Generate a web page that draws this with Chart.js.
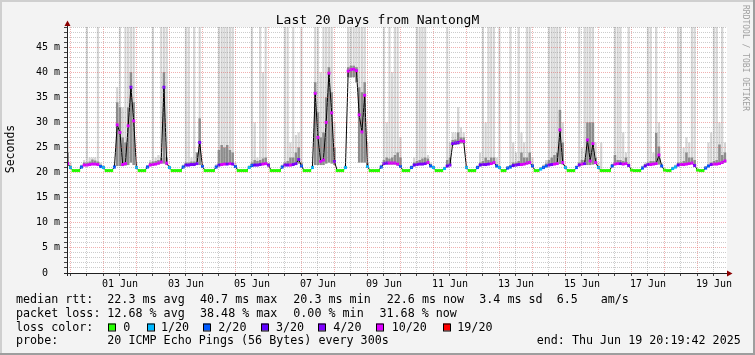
<!DOCTYPE html>
<html><head><meta charset="utf-8">
<script src="https://cdn.jsdelivr.net/npm/chart.js@4.4.1/dist/chart.umd.min.js"></script>
<style>html,body{margin:0;padding:0;background:#f3f3f3;}canvas{display:block;}</style>
</head><body>
<canvas id="c" width="755" height="355"></canvas>
<script>
const title = 'Last 20 Days from NantongM';
const yAxisTitle = 'Seconds';
const watermark = 'RRDTOOL / TOBI OETIKER';
const xTickLabels = ['01 Jun','03 Jun','05 Jun','07 Jun','09 Jun','11 Jun','13 Jun','15 Jun','17 Jun','19 Jun'];
const yTickLabels = ['0','5 m','10 m','15 m','20 m','25 m','30 m','35 m','40 m','45 m'];
// sample times: hours from 31 May 00:00, one sample every 2 hours
const firstHour = -2, stepHours = 2;
// median rtt (ms), rows = days (00:00 ... 22:00)
const median = [
 21.8,
 21.0,20.4,20.4,20.4,21.1,21.5,21.5,21.6,21.7,21.7,21.6,21.2,
 21.0,20.4,20.4,20.4,21.1,29.5,28.0,21.6,21.8,29.3,37.0,30.3,
 21.0,20.4,20.4,20.4,21.1,21.5,21.6,21.7,21.9,22.1,37.0,21.9,
 21.0,20.4,20.4,20.4,20.4,21.1,21.5,21.5,21.6,21.6,21.8,26.0,
 21.2,20.4,20.4,20.4,20.4,21.1,21.5,21.6,21.7,21.7,21.8,21.7,
 21.2,20.4,20.4,20.4,20.4,21.0,21.4,21.5,21.5,21.6,21.7,21.8,
 21.5,20.4,20.4,20.4,20.4,21.1,21.5,21.5,21.5,21.6,21.8,22.6,
 21.3,20.4,20.4,20.4,21.0,35.8,27.0,22.2,22.5,30.0,39.8,31.9,
 22.2,20.4,20.4,20.4,21.0,40.2,40.5,40.6,40.3,31.5,28.1,35.4,
 21.2,20.4,20.4,20.4,20.4,21.1,21.8,21.9,21.9,21.9,21.9,21.7,
 21.2,20.4,20.4,20.4,21.0,21.5,21.6,21.7,21.7,21.8,22.0,21.3,
 21.0,20.4,20.4,20.4,20.8,21.3,21.5,25.8,25.9,26.0,26.3,26.2,
 21.0,20.4,20.4,20.4,21.0,21.5,21.6,21.6,21.7,21.8,22.0,21.3,
 21.0,20.4,20.4,20.9,21.1,21.4,21.5,21.6,21.6,21.7,21.9,22.0,
 21.3,20.4,20.4,20.7,21.0,21.3,21.5,21.6,21.7,21.8,28.5,22.0,
 21.0,20.4,20.4,20.4,21.0,21.5,21.7,21.8,26.5,22.3,25.8,22.0,
 21.0,20.4,20.4,20.4,20.4,21.3,21.7,21.8,21.8,21.7,21.8,21.4,
 20.5,20.4,20.4,20.4,20.9,21.3,21.6,21.6,21.7,21.8,23.5,21.3,
 20.5,20.4,20.4,20.8,21.1,21.5,21.6,21.6,21.7,21.8,21.9,21.4,
 20.5,20.4,20.4,20.9,21.3,21.6,21.7,21.7,21.8,22.0,22.3
];
// lost pings out of 20
const lossPings = [
 10,
 1,0,0,0,2,10,10,10,10,10,10,2,
 1,0,0,0,2,10,10,10,10,10,4,10,
 1,0,0,0,2,10,10,10,10,10,4,10,
 1,0,0,0,0,2,3,4,4,4,4,4,
 2,0,0,0,0,2,3,10,10,4,10,4,
 2,0,0,0,0,1,2,3,4,4,10,10,
 4,0,0,0,0,2,4,4,10,4,4,4,
 2,0,0,0,1,10,10,10,10,10,10,10,
 4,0,0,0,1,10,10,10,10,10,10,10,
 1,0,0,0,0,2,4,4,10,10,10,10,
 2,0,0,0,2,3,4,4,4,4,10,2,
 1,0,0,0,1,3,4,4,4,4,10,10,
 1,0,0,0,2,3,4,4,4,10,10,2,
 1,0,0,2,2,3,4,4,10,10,10,10,
 2,0,0,1,2,2,4,4,10,10,10,10,
 1,0,0,0,2,4,10,4,10,10,10,10,
 1,0,0,0,0,2,10,10,4,10,10,4,
 0,0,0,0,2,3,4,10,10,10,10,2,
 0,0,0,1,1,3,10,10,10,10,10,4,
 0,0,0,2,2,4,10,10,10,10,10
];
// smoke: lowest ping (ms)
const smokeMin = [
 21.4,
 20.8,20.2,20.2,20.2,20.9,21.3,21.3,21.4,21.5,21.5,21.4,21.0,
 20.8,20.2,20.2,20.2,20.9,21.3,21.3,21.3,21.4,21.5,22.0,21.5,
 20.8,20.2,20.2,20.2,20.9,21.3,21.4,21.5,21.6,21.8,21.8,21.5,
 20.8,20.2,20.2,20.2,20.2,20.9,21.3,21.3,21.4,21.4,21.5,21.5,
 21.0,20.2,20.2,20.2,20.2,20.9,21.3,21.4,21.5,21.5,21.5,21.5,
 21.0,20.2,20.2,20.2,20.2,20.8,21.2,21.3,21.3,21.4,21.5,21.5,
 21.3,20.2,20.2,20.2,20.2,20.9,21.3,21.3,21.3,21.4,21.5,21.8,
 21.1,20.2,20.2,20.2,20.8,21.5,21.5,21.5,21.5,21.8,22.0,21.8,
 21.5,20.2,20.2,20.2,20.8,39.0,39.0,39.0,38.0,22.0,22.0,22.0,
 21.0,20.2,20.2,20.2,20.2,20.9,21.5,21.6,21.6,21.6,21.6,21.4,
 21.0,20.2,20.2,20.2,20.8,21.3,21.4,21.5,21.5,21.6,21.7,21.1,
 20.8,20.2,20.2,20.2,20.6,21.1,21.3,25.4,25.5,25.6,25.8,25.8,
 20.8,20.2,20.2,20.2,20.8,21.3,21.4,21.4,21.5,21.6,21.7,21.1,
 20.8,20.2,20.2,20.7,20.9,21.2,21.3,21.4,21.4,21.5,21.6,21.7,
 21.1,20.2,20.2,20.5,20.8,21.1,21.3,21.4,21.5,21.6,21.7,21.6,
 20.8,20.2,20.2,20.2,20.8,21.3,21.5,21.5,21.5,21.5,21.6,21.7,
 20.8,20.2,20.2,20.2,20.2,21.1,21.5,21.6,21.6,21.5,21.6,21.2,
 20.3,20.2,20.2,20.2,20.7,21.1,21.4,21.4,21.5,21.6,21.6,21.1,
 20.3,20.2,20.2,20.6,20.9,21.3,21.4,21.4,21.5,21.6,21.7,21.2,
 20.3,20.2,20.2,20.7,21.1,21.4,21.5,21.5,21.6,21.8,22.0
];
// smoke: top of the dense (dark) part (ms)
const smokeDark = [
 24,
 21.4,20.6,20.6,20.6,21.4,22,22,22.2,22.6,22.4,22.2,21.6,
 21.3,20.6,20.6,20.6,21.4,34,33,27,26,33,40,34,
 21.3,20.6,20.6,20.6,21.4,22,22.2,22.3,22.5,23,40,23,
 21.3,20.6,20.6,20.6,20.6,21.4,22,22,22.2,22.2,24,30.8,
 21.5,20.6,20.6,20.6,20.6,21.4,24.5,25.5,25,25.5,24.5,24,
 21.5,20.6,20.6,20.6,20.6,21.3,22,22.5,22.3,22.5,22.8,23,
 21.8,20.6,20.6,20.6,20.6,21.4,22,22.3,23,23,24,25,
 22,20.6,20.6,20.6,21.3,38,32,27,28,35,41,36,
 25,20.6,20.6,20.6,21.3,41,41.3,41.3,41,37,36,38,
 22,20.6,20.6,20.6,20.6,21.4,22.5,23,22.8,23,23.5,24,
 23,20.6,20.6,20.6,21.3,22,22.3,22.5,22.8,23,22.8,21.7,
 21.3,20.6,20.6,20.6,21.1,22.5,23,26.5,26.6,28,27,27,
 21.3,20.6,20.6,20.6,21.3,22,22.3,23,22.5,23,23,21.7,
 21.3,20.6,20.6,21.2,21.5,22,22,22.3,24,23,23,24,
 21.7,20.6,20.6,21,21.4,21.8,22.5,23,23.5,24,32.5,26,
 21.3,20.6,20.6,20.6,21.3,22,22.5,22.5,30,30,30,23,
 21.3,20.6,20.6,20.6,20.6,21.7,23.5,22.5,22.5,22.3,23,21.8,
 20.7,20.6,20.6,20.6,21.2,21.7,22,22.3,22.3,27.9,25.2,21.6,
 20.7,20.6,20.6,21.1,21.4,22,22,22.3,24,23,23,22.5,
 20.7,20.6,20.6,21.2,21.6,22,22.3,22.5,25.6,23.5,24
];
// smoke: highest ping (ms); values past the top of the graph are cut off
const smokeMax = [
 26.5,
 22.0,20.6,20.6,20.6,21.6,22.5,60,23,23,23,60,22,
 21.5,20.6,20.6,20.6,21.6,37,60,33,60,60,60,60,
 22,20.6,20.6,20.6,21.5,22.5,60,23,23.5,60,60,60,
 21.4,20.6,20.6,20.6,20.6,21.6,60,60,23,60,24,60,
 21.7,20.6,20.6,20.6,20.6,21.7,60,60,60,60,60,60,
 22,20.6,20.6,20.6,20.6,21.5,60,30,23,60,40,60,
 22,20.6,20.6,20.6,20.6,21.6,60,60,26,60,27.5,28,
 60,20.6,20.6,20.6,21.5,60,60,40,60,60,60,60,
 30,20.6,20.6,20.6,21.5,60,60,60,60,60,60,60,
 26,20.6,20.6,20.6,20.6,21.6,60,30,60,40,60,60,
 27,20.6,20.6,20.6,21.5,23,60,60,60,60,23.5,22,
 21.4,20.6,20.6,20.6,21.2,60,26,28,28,33,29,28,
 21.5,20.6,20.6,20.6,21.5,24,60,30,60,60,60,23,
 60,20.6,20.6,21.3,60,26,24,60,28,26,60,60,
 23,20.6,20.6,21.1,21.6,22.5,60,60,60,60,60,30,
 21.5,20.6,20.6,20.6,21.5,60,25,60,60,60,60,26,
 22,26,20.6,20.6,20.6,21.8,60,60,60,28,24,60,
 20.7,20.6,20.6,20.6,21.4,22,60,60,24,60,30,22,
 20.7,20.6,20.6,21.2,21.6,60,60,25,27,26,60,60,
 20.7,20.6,20.6,21.3,26,28,60,60,30,60,26
];
const lossLevels = [0,1,2,3,4,10,19];
const lossColors = ['#26ff00','#00b8ff','#0059ff','#5e00ff','#7e00ff','#dd00ff','#ff0000'];
const lossLabels = ['0','1/20','2/20','3/20','4/20','10/20','19/20'];
const rttStats = ['22.3 ms avg','40.7 ms max','20.3 ms min','22.6 ms now','3.4 ms sd','6.5','am/s'];
const lossStats = ['12.68 % avg','38.48 % max','0.00 % min','31.68 % now'];
const rowTitles = ['median rtt:','packet loss:','loss color:','probe:'];
const probeText = '20 ICMP Echo Pings (56 Bytes) every 300s';
const endText = 'end: Thu Jun 19 20:19:42 2025';

[lossPings, smokeMin, smokeDark, smokeMax].forEach(a => { if (a.length !== median.length) throw new Error('length mismatch ' + a.length + ' vs ' + median.length); });

const FONT = '"DejaVu Sans Mono"';
const MAJ = 'rgba(222,80,80,0.45)';
const MIN = 'rgba(143,143,143,0.45)';
function lossBucket(n){ let b = 0; for (let k = 0; k < lossLevels.length; k++) if (n >= lossLevels[k]) b = k; return b; }
const xs = median.map((_, i) => firstHour + i * stepHours);
const medPts = median.map((v, i) => ({x: xs[i], y: v}));
const lightBars = smokeMax.map((v, i) => ({x: xs[i], y: [smokeMin[i], v]}));
const darkBars = smokeDark.map((v, i) => ({x: xs[i], y: [smokeMin[i], v]}));
const pointColors = lossPings.map(n => lossColors[lossBucket(n)]);

const frame = {
  id: 'frame',
  beforeDraw(chart) {
    const c = chart.ctx, W = chart.width, H = chart.height, a = chart.chartArea;
    c.save();
    c.fillStyle = '#f3f3f3'; c.fillRect(0, 0, W, H);
    c.fillStyle = '#cfcfcf'; c.fillRect(0, 0, W, 2); c.fillRect(0, 0, 2, H);
    c.fillStyle = '#9e9e9e'; c.fillRect(0, H - 2, W, 2); c.fillRect(W - 2, 0, 2, H);
    c.fillStyle = '#ffffff'; c.fillRect(a.left, a.top, a.right - a.left, a.bottom - a.top);
    c.restore();
  },
  afterDraw(chart) {
    const c = chart.ctx, a = chart.chartArea;
    c.save();
    const ax = Math.round(a.left) + 0.5, ay = Math.round(a.bottom) + 0.5;
    c.strokeStyle = '#202020'; c.lineWidth = 1;
    c.beginPath();
    c.moveTo(a.left - 3, ay); c.lineTo(a.right + 2, ay);
    c.moveTo(ax, a.bottom + 3); c.lineTo(ax, a.top - 2);
    c.stroke();
    c.fillStyle = '#8b0000';
    c.beginPath(); c.moveTo(ax - 3, a.top - 1); c.lineTo(ax + 3, a.top - 1); c.lineTo(ax, a.top - 6.5); c.closePath(); c.fill();
    c.beginPath(); c.moveTo(a.right, ay - 3); c.lineTo(a.right, ay + 3); c.lineTo(a.right + 5.5, ay); c.closePath(); c.fill();

    c.fillStyle = '#000';
    c.font = '13px ' + FONT; c.textAlign = 'center'; c.textBaseline = 'alphabetic';
    c.fillText(title, chart.width / 2, 24);

    c.save();
    c.translate(11, 149); c.rotate(-Math.PI / 2);
    c.font = '11.5px ' + FONT; c.textBaseline = 'middle';
    c.fillText(yAxisTitle, 0, 0);
    c.restore();

    c.save();
    c.translate(745.5, 58); c.rotate(Math.PI / 2);
    c.font = '8px ' + FONT; c.fillStyle = '#a0a0a0'; c.textBaseline = 'middle'; c.textAlign = 'center';
    c.fillText(watermark, 0, 0);
    c.restore();

    c.font = '11.7px ' + FONT; c.textAlign = 'left'; c.textBaseline = 'middle'; c.fillStyle = '#000';
    const rows = [300, 313.5, 327.5, 341];
    rowTitles.forEach((t, k) => c.fillText(t, 16, rows[k]));
    const r1x = [107.3, 200, 293.3, 386.7, 479.3, 556.7, 600.7];
    rttStats.forEach((t, k) => c.fillText(t, r1x[k], rows[0]));
    const r2x = [107.3, 200, 293.3, 379.5];
    lossStats.forEach((t, k) => c.fillText(t, r2x[k], rows[1]));
    const bx = [108, 147, 203, 261, 318, 376, 443];
    const lx = [123.3, 161, 218.3, 276, 333.3, 391.7, 457.3];
    lossLabels.forEach((t, k) => {
      c.fillStyle = lossColors[k]; c.fillRect(bx[k], 323.5, 7, 7);
      c.strokeStyle = '#000'; c.lineWidth = 1; c.strokeRect(bx[k] + 0.5, 323.5 + 0.5, 7, 7);
      c.fillStyle = '#000'; c.fillText(t, lx[k], rows[2]);
    });
    c.fillText(probeText, 107.3, rows[3]);
    c.fillText(endText, 536.7, rows[3]);
    c.restore();
  }
};

new Chart(document.getElementById('c'), {
  type: 'bar',
  data: { datasets: [
    { type: 'line', data: medPts, borderColor: '#000', borderWidth: 1, tension: 0,
      pointStyle: 'rect', pointRadius: 2.1, pointHoverRadius: 2.1, pointBackgroundColor: pointColors,
      pointBorderWidth: 0, order: 0 },
    { type: 'bar', data: darkBars, backgroundColor: '#8c8c8c', borderWidth: 0,
      barPercentage: 0.9, categoryPercentage: 1, grouped: false, order: 1 },
    { type: 'bar', data: lightBars, backgroundColor: '#d6d6d6', borderWidth: 0,
      barPercentage: 0.8, categoryPercentage: 1, grouped: false, order: 2 }
  ]},
  options: {
    responsive: false, animation: false, devicePixelRatio: 1, events: [],
    layout: { padding: { left: 0, right: 28, top: 27, bottom: 62 } },
    plugins: { legend: { display: false }, tooltip: { enabled: false }, title: { display: false } },
    scales: {
      x: {
        type: 'linear', min: -2.5, max: 477.5, offset: false,
        grid: { offset: false, color: c => (c.tick && c.tick.value % 24 === 0) ? MAJ : MIN, lineWidth: 1,
                drawTicks: true, tickLength: 3, tickColor: '#444', z: 1 },
        border: { display: false, dash: [1, 1] },
        ticks: { autoSkip: false, maxRotation: 0, minRotation: 0, padding: 2, color: '#000',
                 font: { family: 'DejaVu Sans Mono', size: 10 },
                 callback: v => { const k = (v - 36) / 48; return (Number.isInteger(k) && k >= 0 && k < xTickLabels.length) ? xTickLabels[k] : ''; } },
        afterBuildTicks: s => { const t = []; for (let v = 0; v <= 468; v += 12) t.push({ value: v }); s.ticks = t; },
        afterFit: s => { s.height = 20; }
      },
      y: {
        type: 'linear', min: 0, max: 49,
        grid: { color: c => (c.tick && c.tick.value % 5 === 0) ? MAJ : MIN, lineWidth: 1,
                drawTicks: true, tickLength: 3, tickColor: '#444', z: 1 },
        border: { display: false, dash: [1, 1] },
        ticks: { autoSkip: false, padding: 4, color: '#000', font: { family: 'DejaVu Sans Mono', size: 10 },
                 callback: v => (v % 5 === 0) ? (v === 0 ? yTickLabels[0] + '  ' : yTickLabels[v / 5]) : '' },
        afterBuildTicks: s => { const t = []; for (let v = 0; v <= 49; v += 1) t.push({ value: v }); s.ticks = t; },
        afterFit: s => { s.width = 67; }
      }
    }
  },
  plugins: [frame]
});
</script>
</body></html>
